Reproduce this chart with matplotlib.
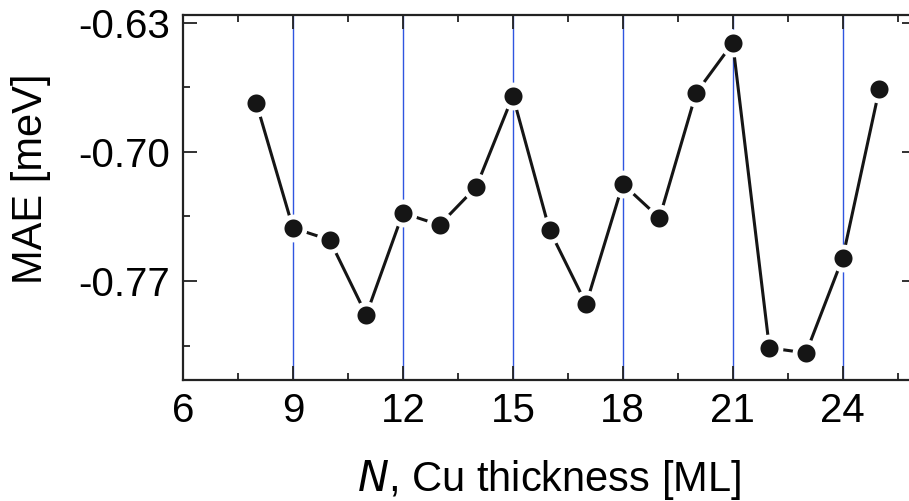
import matplotlib.pyplot as plt
from matplotlib.ticker import MultipleLocator

plt.rcParams['font.family'] = ['Liberation Sans', 'DejaVu Sans']

# Cu thickness in monolayers and the magnetic anisotropy energy
thickness = [8, 9, 10, 11, 12, 13, 14, 15, 16, 17, 18, 19, 20, 21, 22, 23, 24, 25]
mae = [-0.6734, -0.7412, -0.7477, -0.7884, -0.7331, -0.7396, -0.7190, -0.6696,
       -0.7423, -0.7825, -0.7174, -0.7358, -0.6680, -0.6409, -0.8063, -0.8090,
       -0.7575, -0.6658]
guide_lines = [9, 12, 15, 18, 21, 24]
x_ticks = [6, 9, 12, 15, 18, 21, 24]
y_ticks = [-0.77, -0.70, -0.63]
y_tick_labels = ['-0.77', '-0.70', '-0.63']

fig = plt.figure(figsize=(9.09, 5.01), dpi=100)
ax = fig.add_axes([183 / 909, 1 - 380 / 501, 733 / 909, 365 / 501])

for x in guide_lines:
    ax.axvline(x, color='#2f55e0', linewidth=1.0, zorder=1)

ax.plot(thickness, mae, color='#151515', linewidth=2.2, marker='o', markersize=16.5,
        markerfacecolor='#151515', markeredgecolor='white', markeredgewidth=3.5, zorder=3)

ax.set_xlim(6, 26)
ax.set_ylim(-0.8237, -0.6257)
ax.set_xticks(x_ticks)
ax.set_yticks(y_ticks)
ax.set_yticklabels(y_tick_labels)
ax.xaxis.set_minor_locator(MultipleLocator(1.5))
ax.yaxis.set_minor_locator(MultipleLocator(0.035))

ax.tick_params(which='both', direction='in', top=True, right=True, width=1.3, color='#222222')
ax.tick_params(which='major', length=10, labelsize=29, pad=9)
ax.tick_params(which='minor', length=5)
for s in ax.spines.values():
    s.set_linewidth(1.6)
    s.set_color('#222222')

ax.set_xlabel('$\\it{N}$, Cu thickness [ML]', fontsize=30, labelpad=20)
ax.set_ylabel('MAE [meV]', fontsize=30)
ax.yaxis.set_label_coords(-0.18, 0.55)

fig.savefig('out.png', dpi=100)
